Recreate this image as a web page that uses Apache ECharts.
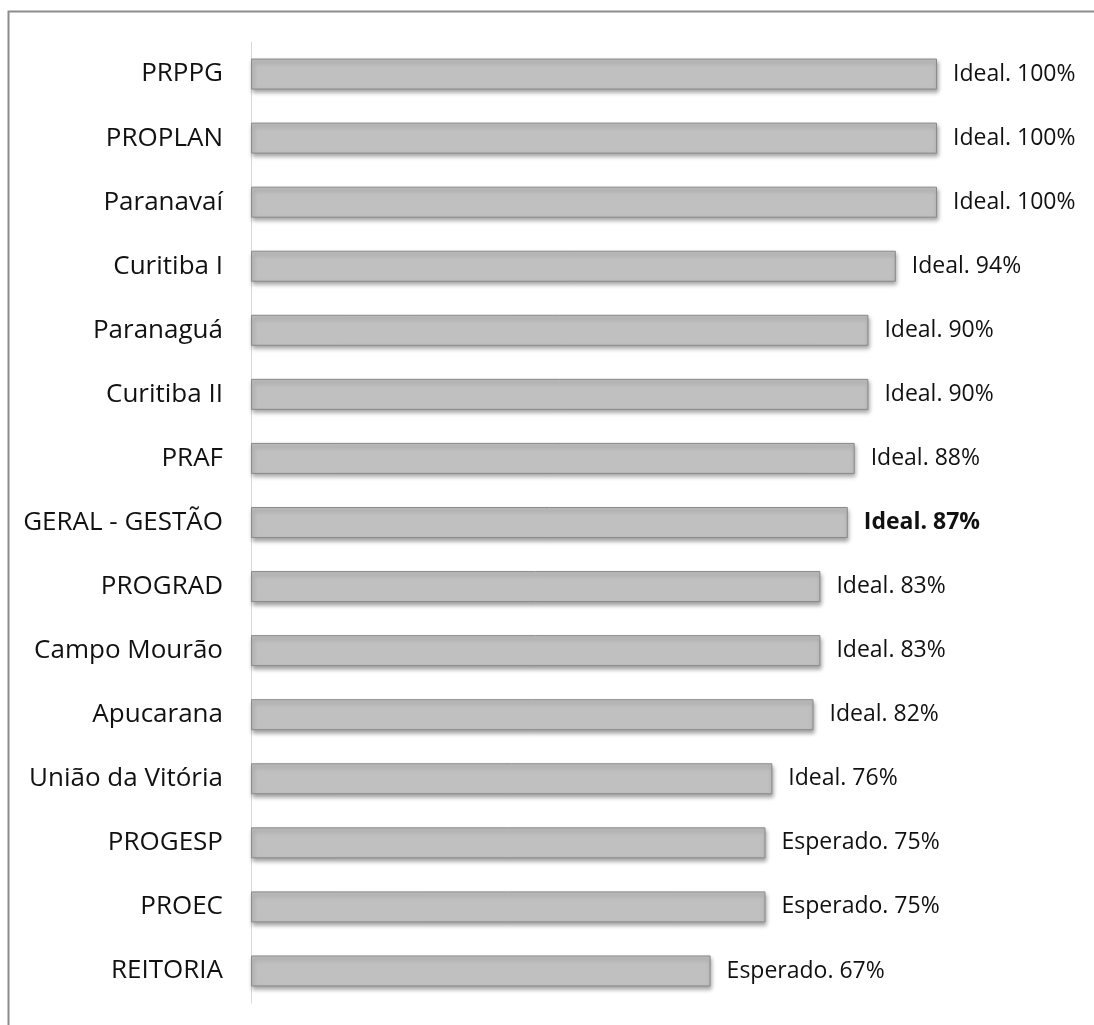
<!DOCTYPE html>
<html>
<head>
<meta charset="utf-8">
<script src="https://cdn.jsdelivr.net/npm/echarts@6/dist/echarts.min.js"></script>
<style>
  html, body { margin: 0; padding: 0; background: #fff; }
  #chart { width: 1094px; height: 1025px; }
</style>
</head>
<body>
<div id="chart"></div>
<script>
// categories, top to bottom
var categories = [
  'PRPPG', 'PROPLAN', 'Paranavaí', 'Curitiba I', 'Paranaguá', 'Curitiba II',
  'PRAF', 'GERAL - GESTÃO', 'PROGRAD', 'Campo Mourão', 'Apucarana',
  'União da Vitória', 'PROGESP', 'PROEC', 'REITORIA'
]
var values = [100, 100, 100, 94, 90, 90, 88, 87, 83, 83, 82, 76, 75, 75, 67]
var levels = [
  'Ideal', 'Ideal', 'Ideal', 'Ideal', 'Ideal', 'Ideal', 'Ideal', 'Ideal',
  'Ideal', 'Ideal', 'Ideal', 'Ideal', 'Esperado', 'Esperado', 'Esperado'
]
var highlight = 'GERAL - GESTÃO'

var font = '"Open Sans", "Noto Sans", sans-serif'

var chart = echarts.init(document.getElementById('chart'))

var option = {
  animation: false,
  backgroundColor: '#fff',
  graphic: [
    {
      type: 'polyline',
      shape: { points: [[8.5, 1025], [8.5, 11.5], [1094, 11.5]] },
      style: { stroke: '#8c8c8c', lineWidth: 2, fill: null }
    }
  ],
  grid: {
    left: 251,
    top: 42,
    width: 686,
    height: 961,
    containLabel: false
  },
  xAxis: {
    type: 'value',
    min: 0,
    max: 100,
    show: false
  },
  yAxis: {
    type: 'category',
    inverse: true,
    data: categories,
    axisTick: { show: false },
    axisLine: { show: true, lineStyle: { color: '#d9d9d9', width: 1 } },
    axisLabel: {
      color: '#111',
      fontFamily: font,
      fontSize: 26,
      margin: 28
    }
  },
  series: [
    {
      type: 'bar',
      barWidth: 31,
      data: values.map(function (v, i) {
        var bold = categories[i] === highlight
        return {
          value: v,
          label: { fontWeight: bold ? 'bold' : 'normal' }
        }
      }),
      itemStyle: {
        color: '#c0c0c0',
        borderColor: '#8a8a8a',
        borderWidth: 1,
        shadowColor: 'rgba(0,0,0,0.35)',
        shadowBlur: 4,
        shadowOffsetX: 1,
        shadowOffsetY: 3
      },
      label: {
        show: true,
        position: 'right',
        distance: 16,
        color: '#111',
        fontFamily: font,
        fontSize: 23,
        formatter: function (p) {
          return levels[p.dataIndex] + '. ' + p.value + '%'
        }
      }
    }
  ]
}

chart.setOption(option)
</script>
</body>
</html>
